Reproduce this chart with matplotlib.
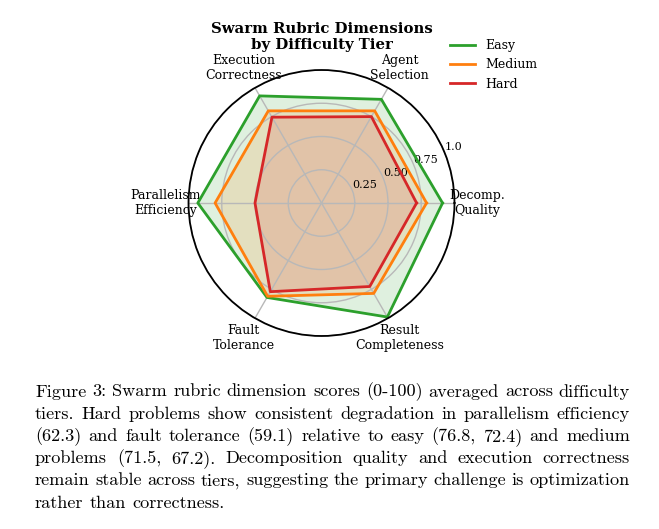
import matplotlib
matplotlib.use('Agg')
import matplotlib.pyplot as plt
import numpy as np

categories = ['Decomp.\nQuality', 'Agent\nSelection', 'Execution\nCorrectness',
              'Parallelism\nEfficiency', 'Fault\nTolerance', 'Result\nCompleteness']
tiers = ['Easy', 'Medium', 'Hard']
easy = [0.91, 0.90, 0.93, 0.93, 0.82, 0.99]
medium = [0.79, 0.80, 0.80, 0.80, 0.81, 0.785]
hard = [0.715, 0.75, 0.745, 0.50, 0.77, 0.725]
colors = ['#2ca02c', '#ff7f0e', '#d62728']
rticks = [0.25, 0.5, 0.75, 1.0]
rtick_labels = ['0.25', '0.50', '0.75', '1.0']
title = 'Swarm Rubric Dimensions\nby Difficulty Tier'
caption_lines = [
    "Figure 3: Swarm rubric dimension scores (0-100) averaged across difficulty",
    "tiers. Hard problems show consistent degradation in parallelism efficiency",
    "(62.3) and fault tolerance (59.1) relative to easy (76.8, 72.4) and medium",
    "problems (71.5, 67.2).  Decomposition quality and execution correctness",
    "remain stable across tiers, suggesting the primary challenge is optimization",
    "rather than correctness.",
]

plt.rcParams['font.family'] = 'DejaVu Serif'
W, H = 659, 529
fig = plt.figure(figsize=(W / 100, H / 100), dpi=100)
cx, cy, R = 321.5, 203, 133
ax = fig.add_axes([(cx - R) / W, (H - cy - R) / H, 2 * R / W, 2 * R / H], polar=True)

angles = np.linspace(0, 2 * np.pi, len(categories), endpoint=False)
for vals, name, c in zip([easy, medium, hard], tiers, colors):
    v = np.r_[vals, vals[0]]
    a = np.r_[angles, angles[0]]
    ax.plot(a, v, color=c, lw=2, label=name)
    ax.fill(a, v, color=c, alpha=0.15)

ax.set_ylim(0, 1.0)
ax.set_xticks(angles)
ax.set_xticklabels(categories, fontsize=9)
ax.tick_params(axis='x', pad=6)
ax.set_yticks(rticks)
ax.set_yticklabels(rtick_labels, fontsize=8)
ax.grid(True, color='#b8b8b8', lw=1)
ax.spines['polar'].set_linewidth(1.3)

fig.text(cx / W, 1 - 37 / H, title, ha='center', va='center', fontsize=10.7,
         fontweight='bold')

ax.legend(loc='upper left', bbox_to_anchor=(439 / W, 1 - 28 / H),
          bbox_transform=fig.transFigure, frameon=False, fontsize=9)

# justified caption in Computer Modern
renderer = fig.canvas.get_renderer()
x0, x1 = 35, 630
base0, dy = 396.5, 22.2


def natural_width(line, fs):
    t = fig.text(0, 0, line, fontsize=fs, family='cmr10')
    w_ = t.get_window_extent(renderer).width
    t.remove()
    return w_


ref_fs = 10.0
nat = np.mean([natural_width(l, ref_fs) for l in caption_lines[:-1]])
fs = ref_fs * (x1 - x0) / nat * 0.99

for i, line in enumerate(caption_lines):
    yb = 1 - (base0 + i * dy) / H
    words = line.split()
    texts = [fig.text(0, yb, w_, fontsize=fs, family='cmr10', va='baseline', ha='left')
             for w_ in words]
    widths = [t.get_window_extent(renderer).width for t in texts]
    if i < len(caption_lines) - 1:
        gap = (x1 - x0 - sum(widths)) / (len(words) - 1)
    else:
        gap = natural_width('a a', fs) - natural_width('aa', fs)
    x = x0
    for t, w_ in zip(texts, widths):
        t.set_x(x / W)
        x += w_ + gap

fig.savefig('out.png', dpi=100)
